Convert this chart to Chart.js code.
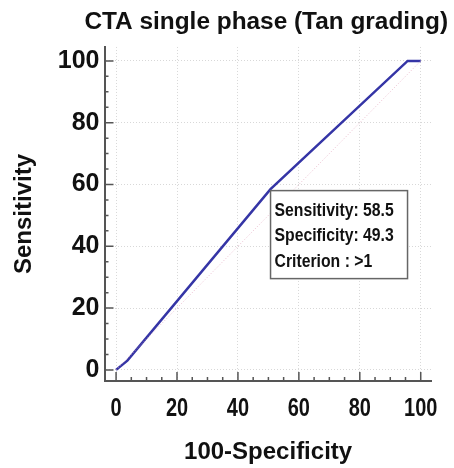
<!DOCTYPE html>
<html>
<head>
<meta charset="utf-8">
<script src="https://cdn.jsdelivr.net/npm/chart.js@4.4.1/dist/chart.umd.min.js"></script>
<style>
	html, body { margin: 0; padding: 0; background: #fff; }
	#wrap { width: 454px; height: 468px; position: relative; }
</style>
</head>
<body>
<div id="wrap"><canvas id="rocChart"></canvas></div>
<script>
"use strict"

// DATA -----------------------
const fpr = [0, 3.7, 50.7, 95.7, 100]          // 100-Specificity
const sens = [0, 3, 58.5, 100, 100]            // Sensitivity
const diagX = [0, 100]
const diagY = [0, 100]
const xTicks = [0, 20, 40, 60, 80, 100]
const yTicks = [0, 20, 40, 60, 80, 100]
const cutoff = [50.7, 58.5]
const boxLines = ["Sensitivity: 58.5", "Specificity: 49.3", "Criterion : >1"]

const fam = "'Liberation Sans', Arial, sans-serif"
Chart.defaults.font.family = fam
Chart.defaults.color = "#111"

// PLUGINS -----------------------
// inward major/minor tick marks
const innerTicks = {
	id: "innerTicks",
	afterDatasetsDraw(chart) {
		const ctx = chart.ctx
		const x = chart.scales.x
		const y = chart.scales.y
		const area = chart.chartArea
		ctx.save()
		ctx.strokeStyle = "#555"
		ctx.lineWidth = 1.5
		ctx.beginPath()
		for (let v = 0; v <= 100; v += 5) {
			let len = v % 20 === 0 ? 9 : 4
			let px = x.getPixelForValue(v)
			ctx.moveTo(px, area.bottom)
			ctx.lineTo(px, area.bottom - len)
			let py = y.getPixelForValue(v)
			ctx.moveTo(area.left, py)
			ctx.lineTo(area.left + len, py)
		}
		ctx.stroke()
		ctx.restore()
	},
}

// condensed x tick labels (original uses a narrow face)
const narrowXLabels = {
	id: "narrowXLabels",
	afterDraw(chart) {
		const ctx = chart.ctx
		const x = chart.scales.x
		ctx.save()
		ctx.fillStyle = "#111"
		ctx.font = "bold 25px " + fam
		ctx.textAlign = "center"
		ctx.textBaseline = "middle"
		for (let i = 0; i < xTicks.length; i++) {
			ctx.save()
			ctx.translate(x.getPixelForValue(xTicks[i]), chart.chartArea.bottom + 28)
			ctx.scale(0.8, 1)
			ctx.fillText(String(xTicks[i]), 0, 0)
			ctx.restore()
		}
		ctx.restore()
	},
}

// info box anchored at the cut-off point
const infoBox = {
	id: "infoBox",
	afterDatasetsDraw(chart) {
		const ctx = chart.ctx
		const left = chart.scales.x.getPixelForValue(cutoff[0])
		const top = chart.scales.y.getPixelForValue(cutoff[1]) + 1.5
		ctx.save()
		ctx.fillStyle = "#fff"
		ctx.strokeStyle = "#666"
		ctx.lineWidth = 1.5
		ctx.fillRect(left, top, 137, 88)
		ctx.strokeRect(left, top, 137, 88)
		ctx.fillStyle = "#111"
		ctx.font = "bold 19px " + fam
		ctx.textBaseline = "alphabetic"
		for (let i = 0; i < boxLines.length; i++) {
			ctx.save()
			ctx.translate(left + 4, top + 25 + i * 25.5)
			ctx.scale(0.83, 1)
			ctx.fillText(boxLines[i], 0, 0)
			ctx.restore()
		}
		ctx.restore()
	},
}

// CHART -----------------------
const rocChart = new Chart(document.getElementById("rocChart"), {
	type: "line",
	data: {
		datasets: [
			{
				data: diagX.map((v, i) => ({ x: v, y: diagY[i] })),
				borderColor: "rgba(225, 160, 185, 0.7)",
				borderWidth: 1,
				borderDash: [1, 2],
				pointRadius: 0,
			},
			{
				data: fpr.map((v, i) => ({ x: v, y: sens[i] })),
				borderColor: "#3535a6",
				borderWidth: 2.5,
				pointRadius: 0,
				tension: 0,
			},
		],
	},
	options: {
		responsive: true,
		maintainAspectRatio: false,
		animation: false,
		layout: { padding: { left: 0, right: 6, top: 0, bottom: 0 } },
		plugins: {
			legend: { display: false },
			tooltip: { enabled: false },
			title: {
				display: true,
				text: "CTA single phase (Tan grading)",
				align: "end",
				color: "#111",
				font: { size: 24.4, weight: "bold" },
				padding: { top: 8, bottom: 9.7 },
			},
		},
		scales: {
			x: {
				type: "linear",
				min: -3.8,
				max: 103.6,
				afterBuildTicks: (s) => { s.ticks = xTicks.map((v) => ({ value: v })) },
				afterFit: (s) => { s.height = 87 },
				ticks: { display: false },
				grid: { color: "#d8d8d8", lineWidth: 1, drawTicks: false },
				border: { color: "#555", width: 2, dash: [1, 2] },
				title: {
					display: true,
					text: "100-Specificity",
					color: "#111",
					font: { size: 24, weight: "bold" },
					padding: { top: 0, bottom: 1 },
				},
			},
			y: {
				type: "linear",
				min: -3.6,
				max: 104.5,
				afterBuildTicks: (s) => { s.ticks = yTicks.map((v) => ({ value: v })) },
				afterFit: (s) => { s.width = 104.5 },
				ticks: {
					color: "#111",
					padding: 5,
					font: { size: 25, weight: "bold" },
				},
				grid: { color: "#d8d8d8", lineWidth: 1, drawTicks: false },
				border: { color: "#555", width: 2, dash: [1, 2] },
				title: {
					display: true,
					text: "Sensitivity",
					color: "#111",
					font: { size: 24, weight: "bold" },
					padding: { top: 10, bottom: 0 },
				},
			},
			// empty right margin, keeps the plot narrower than the title
			gap: {
				type: "linear",
				position: "right",
				grid: { display: false },
				border: { display: false },
				ticks: { display: false },
				afterFit: (s) => { s.width = 16.3 },
			},
		},
	},
	plugins: [innerTicks, narrowXLabels, infoBox],
})
</script>
</body>
</html>
